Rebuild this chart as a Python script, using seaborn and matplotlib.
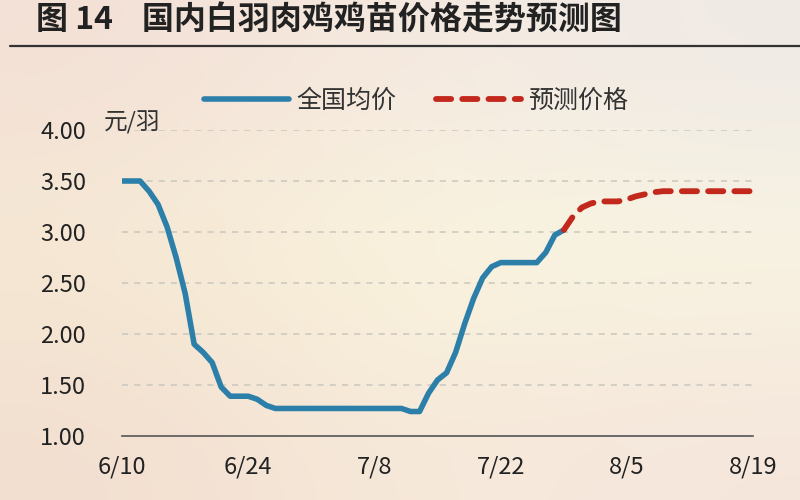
import numpy as np
import pandas as pd
import matplotlib
matplotlib.use("Agg")
import matplotlib.pyplot as plt
import seaborn as sns

# days counted from 6/10
tick_days = [0, 14, 28, 42, 56, 70]
tick_labels = ["6/10", "6/24", "7/8", "7/22", "8/5", "8/19"]

actual_days = list(range(0, 50))
actual_price = [3.50, 3.50, 3.50, 3.40, 3.27, 3.05, 2.75, 2.40, 1.90, 1.82,
                1.72, 1.48, 1.39, 1.39, 1.39, 1.36, 1.30, 1.27, 1.27, 1.27,
                1.27, 1.27, 1.27, 1.27, 1.27, 1.27, 1.27, 1.27, 1.27, 1.27,
                1.27, 1.27, 1.24, 1.24, 1.42, 1.55, 1.62, 1.82, 2.10, 2.35,
                2.55, 2.66, 2.70, 2.70, 2.70, 2.70, 2.70, 2.80, 2.97, 3.02]

forecast_days = list(range(49, 71))
forecast_price = [3.02, 3.15, 3.24, 3.28, 3.30, 3.30, 3.30, 3.32, 3.35, 3.37,
                  3.39, 3.40, 3.40, 3.40, 3.40, 3.40, 3.40, 3.40, 3.40, 3.40,
                  3.40, 3.40]

df_actual = pd.DataFrame({"day": actual_days, "price": actual_price})
df_fc = pd.DataFrame({"day": forecast_days, "price": forecast_price})

sns.set_theme(style="white")
plt.rcParams["font.family"] = ["Noto Sans CJK SC", "DejaVu Sans"]
plt.rcParams["axes.unicode_minus"] = False

fig = plt.figure(figsize=(8, 5), dpi=100)

# soft background gradient
bg = fig.add_axes([0, 0, 1, 1], zorder=-10)
cols = np.array([
    [[243, 224, 214], [246, 234, 224], [240, 234, 230]],
    [[246, 234, 212], [251, 247, 222], [249, 246, 226]],
    [[242, 222, 208], [247, 234, 218], [245, 230, 220]],
]) / 255.0
bg.imshow(cols, aspect="auto", interpolation="bicubic", extent=[0, 1, 0, 1])
bg.set_axis_off()

ax = fig.add_axes([0.1525, 0.128, 0.789, 0.612])
ax.patch.set_alpha(0)

sns.lineplot(data=df_actual, x="day", y="price", ax=ax, color="#2b7fa9",
             lw=4.0, label="全国均价")
sns.lineplot(data=df_fc, x="day", y="price", ax=ax, color="#c3281c",
             lw=4.2, label="预测价格")
ax.lines[1].set_linestyle((0, (2.6, 1.9)))
ax.lines[1].set_dash_capstyle("round")

ax.set_xlim(0, 70)
ax.set_ylim(1, 4)
ax.set_yticks([1.0, 1.5, 2.0, 2.5, 3.0, 3.5, 4.0])
ax.set_yticklabels([f"{v:.2f}" for v in [1.0, 1.5, 2.0, 2.5, 3.0, 3.5, 4.0]])
ax.set_xticks(tick_days)
ax.set_xticklabels(tick_labels)
ax.tick_params(axis="both", labelsize=17, colors="#222222", length=0)
ax.tick_params(axis="y", pad=26)
ax.tick_params(axis="x", pad=14)
ax.set_xlabel("")
ax.set_ylabel("")

for y in [1.5, 2.0, 2.5, 3.0, 3.5, 4.0]:
    ax.axhline(y, color="#c9c7bf", lw=1.1, ls=(0, (4, 4)), zorder=0)

for s in ["top", "right", "left"]:
    ax.spines[s].set_visible(False)
ax.spines["bottom"].set_color("#555555")
ax.spines["bottom"].set_linewidth(1.2)

ax.legend_.remove()
h, l = ax.get_legend_handles_labels()
fig.legend(h, l, loc="center", bbox_to_anchor=(0.52, 0.798), ncol=2,
           frameon=False, fontsize=18, handlelength=3.4, handletextpad=0.3,
           columnspacing=1.6, labelcolor="#333333")

fig.text(0.13, 0.755, "元/羽", fontsize=17, color="#333333",
         ha="left", va="center")

fig.text(0.045, 0.958, "图 14    国内白羽肉鸡鸡苗价格走势预测图", fontsize=23,
         fontweight="bold", color="#222222", ha="left", va="center")
fig.add_artist(plt.Line2D([0.012, 1.0], [0.908, 0.908], color="#333333",
                          lw=1.6, transform=fig.transFigure))

fig.savefig("out.png", dpi=100)
